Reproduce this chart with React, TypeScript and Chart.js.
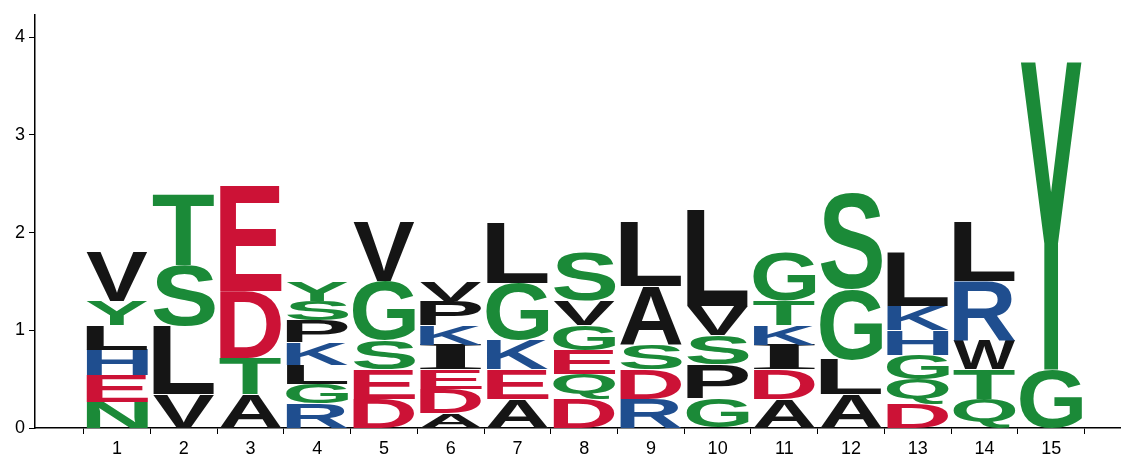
import { useEffect, useRef } from 'react';
import { Chart, registerables } from 'chart.js';

Chart.register(...registerables);

// stacks per position, bottom to top: letter and height (bits)
const positions = [1, 2, 3, 4, 5, 6, 7, 8, 9, 10, 11, 12, 13, 14, 15];
const letters: string[][] = [
  ['N', 'E', 'H', 'L', 'Y', 'V'],
  ['V', 'L', 'S', 'T'],
  ['A', 'T', 'D', 'E'],
  ['R', 'G', 'L', 'K', 'P', 'S', 'Y'],
  ['D', 'E', 'S', 'G', 'V'],
  ['A', 'D', 'E', 'I', 'K', 'P', 'V'],
  ['A', 'E', 'K', 'G', 'L'],
  ['D', 'Q', 'E', 'G', 'V', 'S'],
  ['R', 'D', 'S', 'A', 'L'],
  ['G', 'P', 'S', 'V', 'L'],
  ['A', 'D', 'I', 'K', 'T', 'G'],
  ['A', 'L', 'G', 'S'],
  ['D', 'Q', 'G', 'H', 'K', 'L'],
  ['Q', 'T', 'W', 'R', 'L'],
  ['G', 'Y'],
];
const heights: number[][] = [
  [0.27, 0.27, 0.26, 0.25, 0.25, 0.5],
  [0.35, 0.7, 0.62, 0.73],
  [0.35, 0.37, 0.68, 1.07],
  [0.25, 0.2, 0.2, 0.23, 0.22, 0.2, 0.2],
  [0.3, 0.3, 0.3, 0.6, 0.6],
  [0.15, 0.25, 0.2, 0.25, 0.2, 0.25, 0.2],
  [0.3, 0.3, 0.3, 0.58, 0.62],
  [0.3, 0.25, 0.25, 0.25, 0.25, 0.5],
  [0.3, 0.3, 0.25, 0.6, 0.65],
  [0.3, 0.35, 0.3, 0.3, 0.98],
  [0.3, 0.3, 0.25, 0.2, 0.25, 0.5],
  [0.35, 0.35, 0.72, 0.98],
  [0.25, 0.25, 0.25, 0.25, 0.25, 0.55],
  [0.3, 0.3, 0.3, 0.6, 0.6],
  [0.6, 3.15],
];

const GREEN = '#1b8a38';
const RED = '#cc1236';
const BLUE = '#1f4e8f';
const BLACK = '#151515';
const colorOf = (l: string) =>
  'GSTYQNC'.includes(l) ? GREEN : 'DE'.includes(l) ? RED : 'KRH'.includes(l) ? BLUE : BLACK;

const maxLayers = Math.max(...letters.map((s) => s.length));

const logoPlugin = {
  id: 'logo',
  afterDatasetsDraw(chart: any) {
    const ctx: CanvasRenderingContext2D = chart.ctx;
    chart.data.datasets.forEach((ds: any, di: number) => {
      const meta = chart.getDatasetMeta(di);
      meta.data.forEach((el: any, i: number) => {
        const letter = ds.letters[i];
        if (!letter) return;
        const { x, y, base, width } = el.getProps(['x', 'y', 'base', 'width'], true);
        const h = base - y;
        if (h <= 0) return;
        ctx.save();
        ctx.font =
          letter === 'I'
            ? 'bold 100px "Liberation Serif", serif'
            : 'bold 100px "Liberation Sans", Arial, sans-serif';
        const m = ctx.measureText(letter);
        const tw = m.actualBoundingBoxLeft + m.actualBoundingBoxRight;
        const th = m.actualBoundingBoxAscent + m.actualBoundingBoxDescent;
        ctx.translate(x - width / 2, y);
        ctx.scale(width / tw, h / th);
        ctx.fillStyle = colorOf(letter);
        ctx.textBaseline = 'alphabetic';
        ctx.fillText(letter, m.actualBoundingBoxLeft, m.actualBoundingBoxAscent);
        ctx.restore();
      });
    });
  },
};

export default function App() {
  const ref = useRef<HTMLCanvasElement>(null);

  useEffect(() => {
    document.body.style.margin = '0';
    if (!ref.current) return;
    const datasets = [];
    for (let k = 0; k < maxLayers; k++) {
      const data: any[] = [];
      const lets: (string | null)[] = [];
      positions.forEach((p, i) => {
        if (k < letters[i].length) {
          const lo = heights[i].slice(0, k).reduce((a, b) => a + b, 0);
          data.push({ x: p, y: [lo, lo + heights[i][k]] });
          lets.push(letters[i][k]);
        } else {
          data.push({ x: p, y: null });
          lets.push(null);
        }
      });
      datasets.push({
        data,
        letters: lets,
        backgroundColor: 'rgba(0,0,0,0)',
        borderWidth: 0,
        barThickness: 62,
        grouped: false,
      });
    }
    const tickFont = { family: '"Liberation Sans", Arial, sans-serif', size: 18 };
    const chart = new Chart(ref.current, {
      type: 'bar',
      data: { datasets: datasets as any },
      plugins: [logoPlugin],
      options: {
        animation: false,
        responsive: false,
        layout: { padding: { top: 5, right: 13, left: 0, bottom: 0 } },
        plugins: { legend: { display: false }, tooltip: { enabled: false } },
        scales: {
          x: {
            type: 'linear',
            offset: false,
            min: -0.23,
            max: 16.03,
            afterBuildTicks: (s: any) => {
              s.ticks = positions.map((v) => ({ value: v }));
            },
            afterFit: (s: any) => {
              s.height = 44;
            },
            ticks: { color: '#000', font: tickFont, padding: 4 },
            grid: { drawOnChartArea: false, drawTicks: true, tickLength: 6, color: '#000' },
            border: { color: '#000', width: 1.5 },
          },
          y: {
            min: 0,
            max: 4.23,
            afterBuildTicks: (s: any) => {
              s.ticks = [0, 1, 2, 3, 4].map((v) => ({ value: v }));
            },
            afterFit: (s: any) => {
              s.width = 35;
            },
            ticks: { color: '#000', font: tickFont, padding: 4 },
            grid: { drawOnChartArea: false, drawTicks: true, tickLength: 6, color: '#000' },
            border: { color: '#000', width: 1.5 },
          },
        },
      },
    });
    return () => chart.destroy();
  }, []);

  return (
    <div style={{ width: 1133, height: 472, background: '#fff' }}>
      <canvas ref={ref} width={1133} height={472} />
    </div>
  );
}
